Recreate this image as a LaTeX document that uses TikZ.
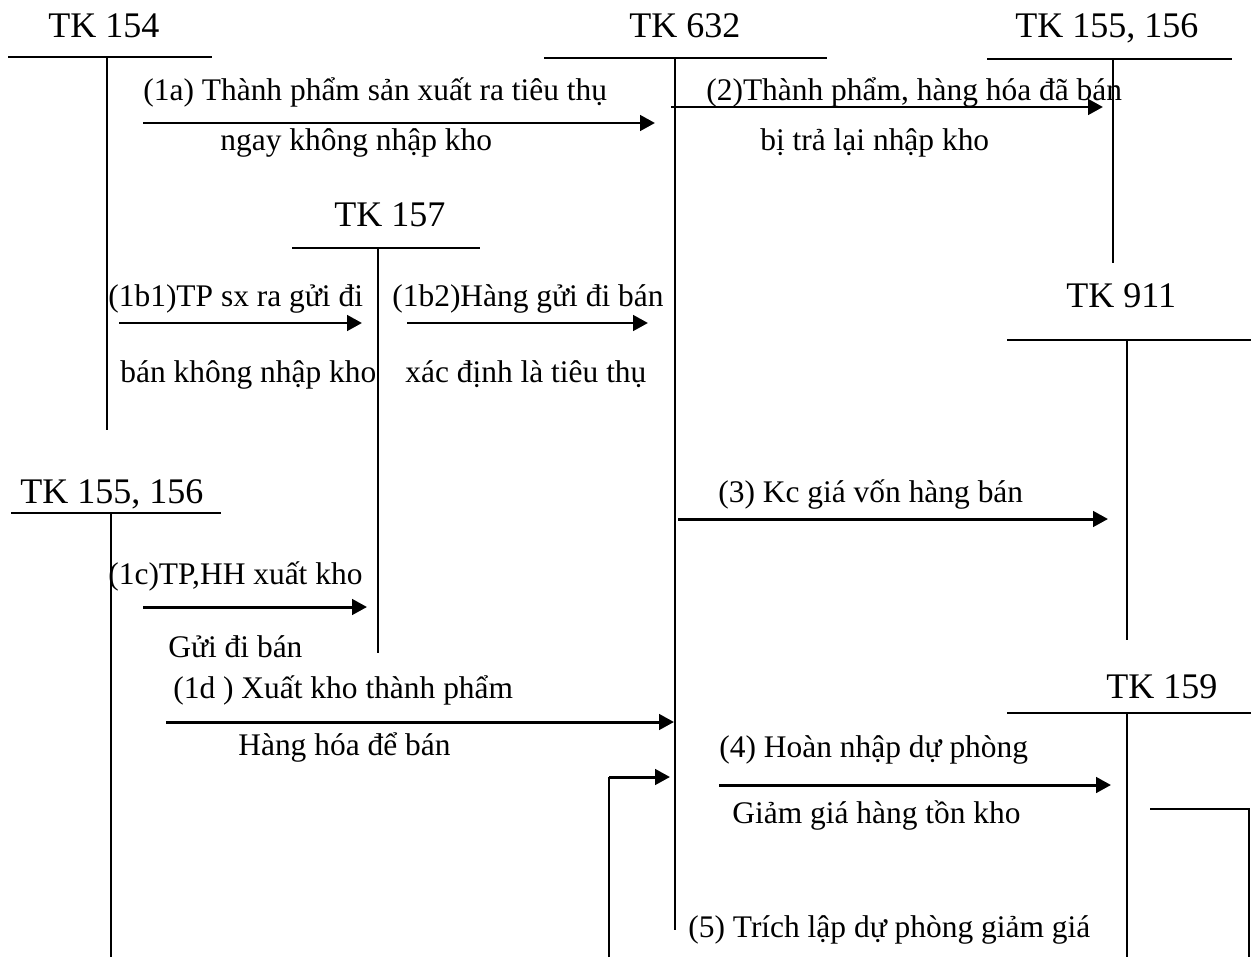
\documentclass[tikz,border=0pt]{standalone}
\usepackage{fontspec}
\setmainfont{Liberation Serif}
\usetikzlibrary{arrows.meta}

\begin{document}
\begin{tikzpicture}[x=0.02cm,y=-0.02cm,
  acct/.style={font=\fontsize{20.5}{24}\selectfont,anchor=base west,inner sep=0pt},
  note/.style={font=\fontsize{17.9}{21}\selectfont,anchor=base west,inner sep=0pt},
  rule/.style={line width=1.1pt},
  msg/.style={-{Triangle[length=8.5pt,width=8.8pt]},line width=1.7pt}]
  \useasboundingbox (0,0) rectangle (1251,957);
  % T-accounts -- title, top bar, stem
  \foreach \name/\txt/\tx/\ty/\l/\r/\y/\x/\b in {
      k154/{TK 154}/48/37/8/212/57/107/430,
      k632/{TK 632}/629/37/544/827/58/675/930,
      k155r/{TK 155, 156}/1015/37/987/1232/59/1113/263,
      k157/{TK 157}/334/226/292/480/248/378/653,
      k911/{TK 911}/1066/307/1007/1251/340/1127/640,
      k155l/{TK 155, 156}/20/503/11/221/513/111/957,
      k159/{TK 159}/1106/698/1007/1251/713/1127/957}{
    \node[acct] (\name) at (\tx,\ty) {\txt};
    \draw[rule] (\l,\y) -- (\r,\y);
    \draw[rule] (\x,\y) -- (\x,\b);}
  % entries -- one arrow per posting
  \foreach \n/\xa/\xb/\y in {1a/143/655/123, 2/671/1103/107,
      1b1/119/362/323, 1b2/407/648/323, 3/678/1108/519,
      1c/143/367/607, 1d/166/674/722, 4/719/1111/785}{
    \coordinate (s\n) at (\xa,\y);
    \coordinate (e\n) at (\xb,\y);
    \draw[msg] (s\n) -- (e\n);}
  % (5) -- runs out below the page
  \coordinate (s5) at (1150,809);
  \coordinate (c5r) at (1249,957);
  \coordinate (c5a) at (609,957);
  \coordinate (c5b) at (609,777);
  \coordinate (e5) at (670,777);
  \draw[rule] (s5) -| (c5r);
  \draw[rule] (c5a) -- (c5b);
  \draw[msg] (c5b) -- (e5);
  % texts over and under the arrows
  \node[note] (t1a) at (143,100) {(1a) Thành phẩm sản xuất ra tiêu thụ};
  \node[note] (u1a) at (220,150) {ngay không nhập kho};
  \node[note] (t2) at (706,100) {(2)Thành phẩm, hàng hóa đã bán};
  \node[note] (u2) at (760,150) {bị trả lại nhập kho};
  \node[note] (t1b1) at (108,306) {(1b1)TP sx ra gửi đi};
  \node[note] (u1b1) at (120,382) {bán không nhập kho};
  \node[note] (t1b2) at (392,306) {(1b2)Hàng gửi đi bán};
  \node[note] (u1b2) at (405,382) {xác định là tiêu thụ};
  \node[note] (t3) at (718,502) {(3) Kc giá vốn hàng bán};
  \node[note] (t1c) at (108,584) {(1c)TP,HH xuất kho};
  \node[note] (u1c) at (168,657) {Gửi đi bán};
  \node[note] (t1d) at (173,698) {(1d ) Xuất kho thành phẩm};
  \node[note] (u1d) at (238,755) {Hàng hóa để bán};
  \node[note] (t4) at (719,757) {(4) Hoàn nhập dự phòng};
  \node[note] (u4) at (732,823) {Giảm giá hàng tồn kho};
  \node[note] (t5) at (688,937) {(5) Trích lập dự phòng giảm giá};
\end{tikzpicture}
\end{document}
